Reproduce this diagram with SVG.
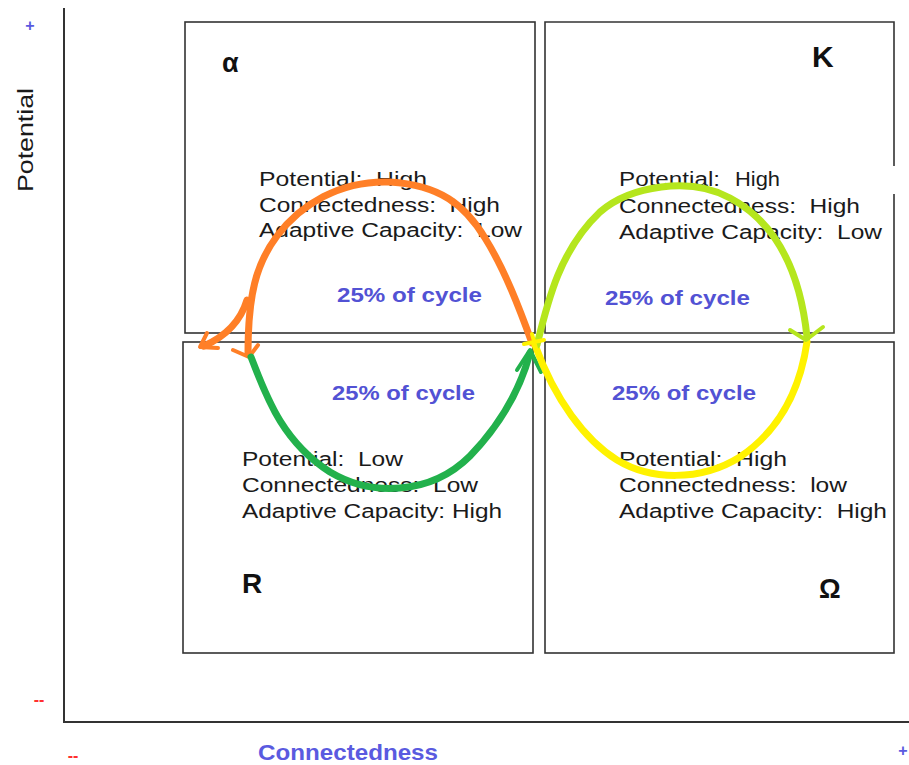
<svg xmlns="http://www.w3.org/2000/svg" width="909" height="765" viewBox="0 0 909 765" xml:space="preserve">
<style>
text{white-space:pre}
.box{fill:none;stroke:#333;stroke-width:1.6}
.axis{fill:none;stroke:#333;stroke-width:2}
.t{font-family:"Liberation Sans",Arial,sans-serif;font-size:20px;fill:#1a1a1a}
.pct{font-family:"Liberation Sans",Arial,sans-serif;font-size:20px;font-weight:bold;fill:#5252d4}
.sym{font-family:"Liberation Sans",Arial,sans-serif;font-weight:bold;fill:#111}
.c{fill:none;stroke-width:7;stroke-linecap:round;stroke-linejoin:round}
.or{stroke:#ff7f27}.gr{stroke:#22b14c}.li{stroke:#b5e61d}.ye{stroke:#fff200}
.ah{stroke-width:4}
</style>
<g id="axes">
<path class="axis" d="M64 8 V722 H909"/>
<text x="33" y="140" transform="rotate(-90 33 140)" text-anchor="middle" font-family="'Liberation Sans',Arial,sans-serif" font-size="22" fill="#1a1a1a" textLength="104" lengthAdjust="spacingAndGlyphs">Potential</text>
<text x="258" y="760" font-family="'Liberation Sans Narrow','Liberation Sans',Arial,sans-serif" font-size="22" font-weight="bold" fill="#5a5ae0" textLength="180" lengthAdjust="spacingAndGlyphs">Connectedness</text>
<text x="30" y="31" text-anchor="middle" font-family="'Liberation Sans',Arial,sans-serif" font-size="16" font-weight="bold" fill="#5a5ae0">+</text>
<text x="903" y="756" text-anchor="middle" font-family="'Liberation Sans',Arial,sans-serif" font-size="16" font-weight="bold" fill="#5a5ae0">+</text>
<text x="39" y="705" text-anchor="middle" font-family="'Liberation Sans',Arial,sans-serif" font-size="16" font-weight="bold" fill="#ff3030">--</text>
<text x="73" y="761" text-anchor="middle" font-family="'Liberation Sans',Arial,sans-serif" font-size="16" font-weight="bold" fill="#ff3030">--</text>
</g>
<g id="quadrant-alpha">
<rect class="box" x="185" y="22" width="350" height="311"/>
<text class="sym" x="222" y="72" font-size="27">α</text>
<text class="t" x="259" y="186" textLength="168" lengthAdjust="spacingAndGlyphs">Potential:  High</text>
<text class="t" x="259" y="212" textLength="241" lengthAdjust="spacingAndGlyphs">Connectedness:  High</text>
<text class="t" x="259" y="237" textLength="263" lengthAdjust="spacingAndGlyphs">Adaptive Capacity:  Low</text>
<text class="pct" x="337" y="302" textLength="145" lengthAdjust="spacingAndGlyphs">25% of cycle</text>
</g>
<g id="quadrant-k">
<path class="box" d="M894 166 V22 H545 V333 H894 V194"/>
<text class="sym" x="812" y="67" font-size="30">K</text>
<text class="t" x="619" y="186" textLength="101" lengthAdjust="spacingAndGlyphs">Potential:</text>
<text class="t" x="735" y="186" font-size="17" textLength="45" lengthAdjust="spacingAndGlyphs">High</text>
<text class="t" x="619" y="213" textLength="241" lengthAdjust="spacingAndGlyphs">Connectedness:  High</text>
<text class="t" x="619" y="239" textLength="263" lengthAdjust="spacingAndGlyphs">Adaptive Capacity:  Low</text>
<text class="pct" x="605" y="305" textLength="145" lengthAdjust="spacingAndGlyphs">25% of cycle</text>
</g>
<g id="quadrant-r">
<rect class="box" x="183" y="342" width="350" height="311"/>
<text class="sym" x="242" y="593" font-size="28">R</text>
<text class="t" x="242" y="466" textLength="161" lengthAdjust="spacingAndGlyphs">Potential:  Low</text>
<text class="t" x="242" y="492" textLength="236" lengthAdjust="spacingAndGlyphs">Connectedness:  Low</text>
<text class="t" x="242" y="518" textLength="260" lengthAdjust="spacingAndGlyphs">Adaptive Capacity: High</text>
<text class="pct" x="332" y="400" textLength="143" lengthAdjust="spacingAndGlyphs">25% of cycle</text>
</g>
<g id="quadrant-omega">
<rect class="box" x="545" y="342" width="349" height="311"/>
<text class="sym" x="819" y="598" font-size="27">Ω</text>
<text class="t" x="619" y="466" textLength="168" lengthAdjust="spacingAndGlyphs">Potential:  High</text>
<text class="t" x="619" y="492" textLength="228" lengthAdjust="spacingAndGlyphs">Connectedness:  low</text>
<text class="t" x="619" y="518" textLength="268" lengthAdjust="spacingAndGlyphs">Adaptive Capacity:  High</text>
<text class="pct" x="612" y="400" textLength="144" lengthAdjust="spacingAndGlyphs">25% of cycle</text>
</g>
<g id="connectors">
<path class="c or" d="M532 343 C520 310 505 270 485 238 C465 205 440 185 390 182 C340 180 300 205 277 236 C256 264 248 295 248 354"/>
<path class="c or" d="M247 300 C241 320 226 336 204 346"/>
<path class="c or ah" d="M207 333 L200 347 L218 348"/>
<path class="c or ah" d="M233 350 L249 357 L258 345"/>
<path class="c gr" d="M251 357 C265 392 280 440 330 472 C370 496 430 496 470 456 C500 425 520 390 530 353"/>
<path class="c gr ah" d="M517 370 L530 350 L541 372"/>
<path class="c ye" d="M807 342 C800 390 780 430 740 457 C700 482 650 480 617 460 C585 440 555 400 535 345"/>
<path class="c li" d="M537 345 C548 300 560 250 600 212 C630 186 690 176 730 198 C775 222 800 270 807 337"/>
<path class="c li ah" d="M790 330 L806 340 L823 327"/>
<path class="c ye ah" d="M524 344 L544 340 M532 334 L537 352"/>
</g>
</svg>
